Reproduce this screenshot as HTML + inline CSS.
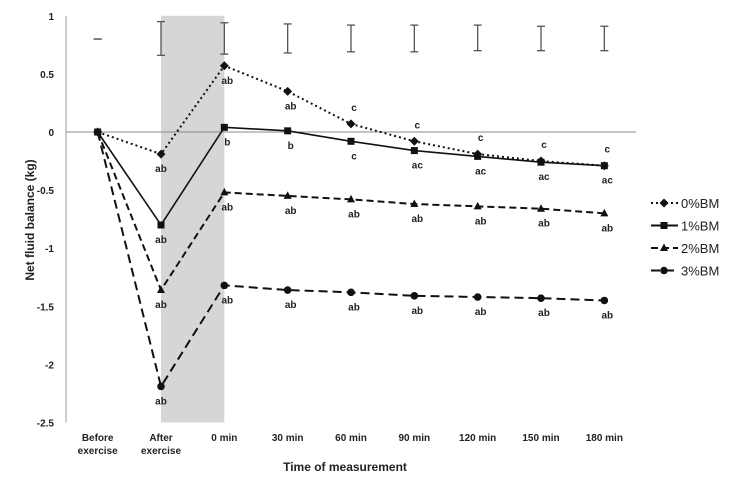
<!DOCTYPE html>
<html><head><meta charset="utf-8"><style>
body{margin:0;background:#fff;}
svg{font-family:"Liberation Sans",Arial,sans-serif;}
</style></head><body>
<svg id="chart" width="749" height="489" viewBox="0 0 749 489"></svg>
<script>
const categories=["Before|exercise","After|exercise","0 min","30 min","60 min","90 min","120 min","150 min","180 min"];
const yTicks=[1,0.5,0,-0.5,-1,-1.5,-2,-2.5];
const yTickLabels=["1","0.5","0","-0.5","-1","-1.5","-2","-2.5"];
const s0=[0,-0.19,0.57,0.35,0.07,-0.08,-0.19,-0.25,-0.29];
const s1=[0,-0.80,0.04,0.01,-0.08,-0.16,-0.21,-0.26,-0.29];
const s2=[0,-1.36,-0.52,-0.55,-0.58,-0.62,-0.64,-0.66,-0.70];
const s3=[0,-2.19,-1.32,-1.36,-1.38,-1.41,-1.42,-1.43,-1.45];
const errTop=[0.80,0.95,0.94,0.93,0.92,0.92,0.92,0.91,0.91];
const errBot=[0.80,0.66,0.67,0.68,0.69,0.69,0.70,0.70,0.70];
const lab0=["","ab","ab","ab","c","c","c","c","c"];
const lab1=["","ab","b","b","c","ac","ac","ac","ac"];
const lab2=["","ab","ab","ab","ab","ab","ab","ab","ab"];
const lab3=["","ab","ab","ab","ab","ab","ab","ab","ab"];
const names=["0%BM","1%BM","2%BM","3%BM"];

const svg=document.getElementById('chart');
const NS="http://www.w3.org/2000/svg";
const X0=66,X1=636,Y0=132,PPU=116.2;
const bw=(X1-X0)/categories.length;
function xs(i){return X0+bw*(i+0.5);}
function ys(v){return Y0-v*PPU;}
function mk(tag,attrs,parent){const e=document.createElementNS(NS,tag);for(const k in attrs)e.setAttribute(k,attrs[k]);(parent||svg).appendChild(e);return e;}

let band=mk('rect',{x:xs(1),y:ys(1),width:xs(2)-xs(1),height:ys(-2.5)-ys(1),fill:'#d6d6d6'});



let ya=mk('line',{x1:X0,y1:ys(1),x2:X0,y2:ys(-2.5),stroke:'#999','stroke-width':1});


let za=mk('line',{x1:X0,y1:Y0,x2:X1,y2:Y0,stroke:'#888','stroke-width':1});



yTicks.forEach((v,i)=>{
  const t=mk('text',{x:X0-12,y:ys(v)+4,'text-anchor':'end','font-size':10,'font-weight':'bold',fill:'#222'});
  t.textContent=yTickLabels[i];
  
  
});
categories.forEach((c,i)=>{
  const parts=c.split('|');
  parts.forEach((p,j)=>{
    const t=mk('text',{x:xs(i),y:(parts.length>1?441+j*13:441),'text-anchor':'middle','font-size':10,'font-weight':'bold',fill:'#222'});
    t.textContent=p;
    
    
  });
});
errTop.forEach((v,i)=>{
  const g=mk('g',{stroke:'#555','stroke-width':1.3});
  
  
  mk('line',{x1:xs(i),y1:ys(v),x2:xs(i),y2:ys(errBot[i])},g);
  mk('line',{x1:xs(i)-4,y1:ys(v),x2:xs(i)+4,y2:ys(v)},g);
  mk('line',{x1:xs(i)-4,y1:ys(errBot[i]),x2:xs(i)+4,y2:ys(errBot[i])},g);
});
const series=[s0,s1,s2,s3];
const dashes=["2,3","","7,4","9,5"];
const labs=[lab0,lab1,lab2,lab3];
function marker(k,x,y,parent){
  if(k===0)return mk('polygon',{points:`${x},${y-4.5} ${x+4.5},${y} ${x},${y+4.5} ${x-4.5},${y}`,fill:'#111'},parent);
  if(k===1)return mk('rect',{x:x-3.5,y:y-3.5,width:7,height:7,fill:'#111'},parent);
  if(k===2)return mk('polygon',{points:`${x},${y-4.5} ${x+4},${y+3} ${x-4},${y+3}`,fill:'#111'},parent);
  return mk('circle',{cx:x,cy:y,r:3.8,fill:'#111'},parent);
}
series.forEach((s,k)=>{
  const g=mk('g',{});
  
  
  mk('polyline',{points:s.map((v,i)=>xs(i)+','+ys(v)).join(' '),fill:'none',stroke:'#111','stroke-width':k===1?1.6:2,'stroke-dasharray':dashes[k]},g);
  s.forEach((v,i)=>{
    const m=marker(k,xs(i),ys(v),g);
    
    
    const txt=labs[k][i];
    if(!txt)return;
    const above=(k===0&&i>=4);
    const t=mk('text',{x:xs(i)+(i>=2?3:0),y:above?ys(v)-13:ys(v)+18,'text-anchor':'middle','font-size':10,'font-weight':'bold',fill:'#222'},g);
    t.textContent=txt;
    
    
  });
});
names.forEach((n,k)=>{
  const y=203+k*22.5;
  const g=mk('g',{});
  
  
  mk('line',{x1:651,y1:y,x2:678,y2:y,stroke:'#111','stroke-width':2,'stroke-dasharray':dashes[k]},g);
  marker(k,664,y,g);
  const t=mk('text',{x:681,y:y+5,'font-size':13,fill:'#222'},g);
  t.textContent=n;
});
let yt=mk('text',{x:0,y:0,transform:'translate(34,220) rotate(-90)','text-anchor':'middle','font-size':12,'font-weight':'bold',fill:'#222'});
yt.textContent='Net fluid balance (kg)';


let xt=mk('text',{x:345,y:471,'text-anchor':'middle','font-size':12,'font-weight':'bold',fill:'#222'});
xt.textContent='Time of measurement';


</script>
</body></html>
